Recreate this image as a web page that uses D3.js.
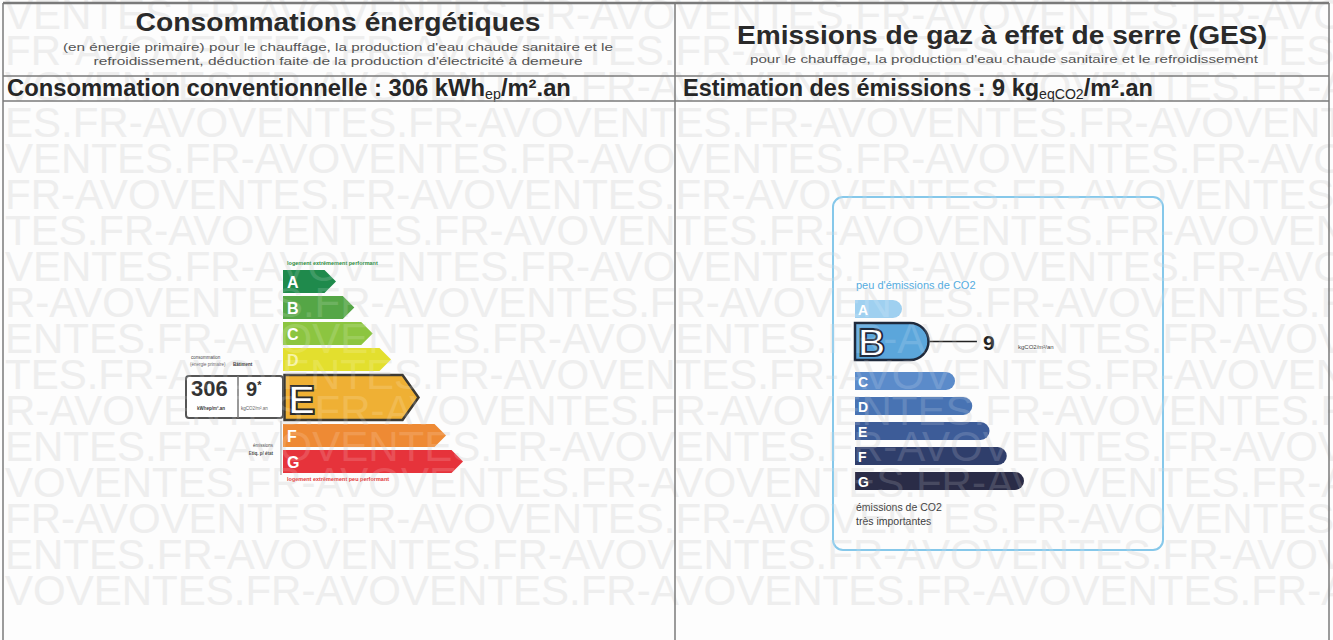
<!DOCTYPE html>
<html>
<head>
<meta charset="utf-8">
<script src="https://cdn.jsdelivr.net/npm/d3@7"></script>
<style>
body{margin:0;background:#fff;}
svg{display:block;font-family:"Liberation Sans",Arial,sans-serif;}
</style>
</head>
<body>
<script>
// energy classes (DPE) and greenhouse gas classes (GES)
var dpeClasses = ["A","B","C","D","E","F","G"];
var dpeLimits = [50, 90, 150, 230, 330, 450, Infinity]; // kWhep/m².an, upper bound of each class
var dpeColors = ["#1f8a4c","#55a646","#8cc540","#e3df2e","#efb034","#ee8a34","#e6333b"];
var gesClasses = ["A","B","C","D","E","F","G"];
var gesLimits = [5, 10, 20, 35, 55, 80, Infinity]; // kgCO2/m².an
var gesColors = ["#9fd0f0","#5ba6db","#5b8bca","#4873b3","#3d5c98","#2f3e6b","#2a2c47"];
var consumption = 306;
var emission = 9;
// watermark rows : start offset inside the repeated word
var wmWord = "VENTES.FR-AVO";
var wmRows = [0, 7, 11, 4, 0, 7, 3, 0, 8, 1, 3, 8, 1, 11, 7, 1, 11];

window.onload = function(){
	var W = 1333, H = 640;
	var svg = d3.select("body").append("svg")
		.attr("width", W)
		.attr("height", H);
	svg.append("rect").attr("width", W).attr("height", H).attr("fill", "#fdfdfd");
	svg.append("clipPath").attr("id", "pg").append("rect").attr("width", W).attr("height", H);

	function watermark(fill, op){
		var g = svg.append("g").attr("class", "wm").attr("clip-path", "url(#pg)");
		g.selectAll("text")
			.data(wmRows)
			.join("text")
			.attr("x", 5)
			.attr("y", function(d, i){ return 29 + i*36; })
			.attr("font-size", 42)
			.attr("fill", fill)
			.attr("opacity", op)
			.text(function(d){ return wmWord.slice(d) + wmWord.repeat(4); });
	}
	watermark("#ececec", 1);

	var dpeSel = dpeLimits.findIndex(function(l){ return consumption <= l; });
	var gesSel = gesLimits.findIndex(function(l){ return emission <= l; });

	// ---------- DPE (left) ----------
	var dpe = svg.append("g");
	var dX0 = 283;
	var dLen = d3.scaleLinear().domain([0, 3, 5, 6]).range([53, 108, 163, 180]);
	var cur = 270, dRows = [];
	dpeClasses.forEach(function(c, i){
		if(i === dpeSel){
			dRows.push({c: c, i: i, y: cur + 1, h: 45});
			cur += 50;
		} else {
			dRows.push({c: c, i: i, y: cur, h: 23});
			cur += 26;
		}
	});
	function arrow(x, y, len, h, d){
		return "M" + x + "," + y + "H" + (x + len - d) + "L" + (x + len) + "," + (y + h/2) +
			"L" + (x + len - d) + "," + (y + h) + "H" + x + "Z";
	}
	dpe.selectAll(".dbar")
		.data(dRows)
		.join("path")
		.attr("class", "dbar")
		.attr("d", function(d){
			var hi = d.i === dpeSel;
			return arrow(hi ? dX0 + 1.5 : dX0, d.y, dLen(d.i) - (hi ? 1.5 : 0), d.h, hi ? 16 : 11.5);
		})
		.attr("fill", function(d){ return dpeColors[d.i]; })
		.attr("stroke", function(d){ return d.i === dpeSel ? "#3d3a33" : "none"; })
		.attr("stroke-width", 2.5);
	dpe.selectAll(".dlab")
		.data(dRows)
		.join("text")
		.attr("class", "dlab")
		.attr("x", function(d){ return d.i === dpeSel ? dX0 + 5 : dX0 + 4; })
		.attr("y", function(d){ return d.i === dpeSel ? d.y + d.h - 6 : d.y + d.h - 5; })
		.attr("font-size", function(d){ return d.i === dpeSel ? 41 : 16; })
		.attr("font-weight", "bold")
		.attr("fill", function(d){ return d.i === 3 ? "#f6f3a6" : "#fff"; })
		.attr("stroke", function(d){ return d.i === dpeSel ? "#2a2a2a" : "none"; })
		.attr("stroke-width", 1.8)
		.text(function(d){ return d.c; });

	dpe.append("text").attr("x", 287).attr("y", 265).attr("font-size", 5.5).attr("font-weight", "bold")
		.attr("fill", "#2b8a3e").text("logement extrêmement performant");
	dpe.append("text").attr("x", 287).attr("y", 481).attr("font-size", 5.5).attr("font-weight", "bold")
		.attr("fill", "#e23b3b").text("logement extrêmement peu performant");
	dpe.append("line").attr("x1", 281).attr("x2", 281).attr("y1", 421).attr("y2", 475)
		.attr("stroke", "#999").attr("stroke-width", 1);

	// value box
	var sel = dRows[dpeSel];
	dpe.append("rect").attr("x", 186).attr("y", sel.y + 1).attr("width", 97).attr("height", sel.h - 3)
		.attr("rx", 3).attr("fill", "#fff").attr("stroke", "#555").attr("stroke-width", 2);
	dpe.append("line").attr("x1", 238).attr("x2", 238).attr("y1", sel.y + 1).attr("y2", sel.y + sel.h - 2)
		.attr("stroke", "#777").attr("stroke-width", 1.5);
	dpe.append("text").attr("x", 191).attr("y", sel.y + 21).attr("font-size", 22).attr("font-weight", "bold")
		.attr("fill", "#333").text(consumption);
	var t9 = dpe.append("text").attr("x", 246).attr("y", sel.y + 21).attr("font-size", 20).attr("font-weight", "bold")
		.attr("fill", "#333");
	t9.append("tspan").text(emission);
	t9.append("tspan").attr("font-size", 11).attr("dy", -7).text("*");
	dpe.append("text").attr("x", 197).attr("y", sel.y + 35).attr("font-size", 4.5).attr("font-weight", "bold")
		.attr("fill", "#333").text("kWhep/m².an");
	dpe.append("text").attr("x", 241).attr("y", sel.y + 35).attr("font-size", 4.5)
		.attr("fill", "#555").text("kgCO2/m².an");
	dpe.append("text").attr("x", 191).attr("y", 359).attr("font-size", 4.5).attr("fill", "#444").text("consommation");
	dpe.append("text").attr("x", 190).attr("y", 366).attr("font-size", 4.5).attr("fill", "#666").text("(énergie primaire)");
	dpe.append("text").attr("x", 233).attr("y", 366).attr("font-size", 4.5).attr("font-weight", "bold").attr("fill", "#333").text("Bâtiment");
	dpe.append("text").attr("x", 273).attr("y", 447).attr("text-anchor", "end").attr("font-size", 4.5).attr("fill", "#444").text("émissions");
	dpe.append("text").attr("x", 273).attr("y", 455).attr("text-anchor", "end").attr("font-size", 4.5).attr("font-weight", "bold").attr("fill", "#444").text("Etiq. p/ état");

	// ---------- GES (right) ----------
	var ges = svg.append("g");
	ges.append("rect").attr("x", 833).attr("y", 197).attr("width", 330).attr("height", 353)
		.attr("rx", 10).attr("fill", "none").attr("stroke", "#86c8ea").attr("stroke-width", 2);
	var gX0 = 855;
	var gLen = d3.scaleLinear().domain([0, 2, 6]).range([47, 100, 169]);
	var gc = 300, gRows = [];
	gesClasses.forEach(function(c, i){
		if(i === gesSel){
			gRows.push({c: c, i: i, y: gc - 2, h: 37});
			gc += 47;
		} else {
			gRows.push({c: c, i: i, y: gc, h: 18});
			gc += 25;
		}
	});
	function pill(x, y, len, h){
		var r = h/2;
		return "M" + x + "," + y + "H" + (x + len - r) + "A" + r + "," + r + " 0 0 1 " + (x + len - r) + "," + (y + h) + "H" + x + "Z";
	}
	ges.selectAll(".gbar")
		.data(gRows)
		.join("path")
		.attr("class", "gbar")
		.attr("d", function(d){ return pill(gX0, d.y, gLen(d.i), d.h); })
		.attr("fill", function(d){ return gesColors[d.i]; })
		.attr("stroke", function(d){ return d.i === gesSel ? "#1f2a3c" : "none"; })
		.attr("stroke-width", 2.5);
	ges.selectAll(".glab")
		.data(gRows)
		.join("text")
		.attr("class", "glab")
		.attr("x", gX0 + 3)
		.attr("y", function(d){ return d.i === gesSel ? d.y + d.h - 4 : d.y + d.h - 3; })
		.attr("font-size", function(d){ return d.i === gesSel ? 38 : 14; })
		.attr("font-weight", "bold")
		.attr("fill", "#fff")
		.attr("stroke", function(d){ return d.i === gesSel ? "#1f2a3c" : "none"; })
		.attr("stroke-width", 1.8)
		.text(function(d){ return d.c; });
	var gs = gRows[gesSel];
	ges.append("line").attr("x1", gX0 + gLen(gesSel) + 1).attr("x2", 977)
		.attr("y1", gs.y + gs.h/2).attr("y2", gs.y + gs.h/2)
		.attr("stroke", "#222").attr("stroke-width", 1.5);
	ges.append("text").attr("x", 983).attr("y", gs.y + gs.h/2 + 8).attr("font-size", 21).attr("font-weight", "bold")
		.attr("fill", "#222").text(emission);
	ges.append("text").attr("x", 1018).attr("y", gs.y + gs.h/2 + 7).attr("font-size", 6)
		.attr("fill", "#444").text("kgCO2/m²/an");
	ges.append("text").attr("x", 856).attr("y", 289).attr("font-size", 11).attr("fill", "#55ace0")
		.text("peu d'émissions de CO2");
	ges.append("text").attr("x", 856).attr("y", 511).attr("font-size", 10.5).attr("fill", "#3a3a3a")
		.text("émissions de CO2");
	ges.append("text").attr("x", 856).attr("y", 525).attr("font-size", 10.5).attr("fill", "#3a3a3a")
		.text("très importantes");

	// light watermark over the labels
	watermark("#ffffff", 0.14);

	// ---------- headers ----------
	var hd = svg.append("g").attr("fill", "#2a2a2a");
	hd.append("text").attr("x", 338).attr("y", 31).attr("text-anchor", "middle")
		.attr("font-size", 25).attr("font-weight", "bold")
		.attr("textLength", 405).attr("lengthAdjust", "spacingAndGlyphs")
		.text("Consommations énergétiques");
	hd.append("text").attr("x", 338).attr("y", 51).attr("text-anchor", "middle")
		.attr("font-size", 11.5).attr("fill", "#555")
		.attr("textLength", 550).attr("lengthAdjust", "spacingAndGlyphs")
		.text("(en énergie primaire) pour le chauffage, la production d'eau chaude sanitaire et le");
	hd.append("text").attr("x", 338).attr("y", 65).attr("text-anchor", "middle")
		.attr("font-size", 11.5).attr("fill", "#555")
		.attr("textLength", 489).attr("lengthAdjust", "spacingAndGlyphs")
		.text("refroidissement, déduction faite de la production d'électricité à demeure");
	hd.append("text").attr("x", 1002).attr("y", 44).attr("text-anchor", "middle")
		.attr("font-size", 25).attr("font-weight", "bold")
		.attr("textLength", 530).attr("lengthAdjust", "spacingAndGlyphs")
		.text("Emissions de gaz à effet de serre (GES)");
	hd.append("text").attr("x", 1004).attr("y", 63).attr("text-anchor", "middle")
		.attr("font-size", 11.5).attr("fill", "#555")
		.attr("textLength", 508).attr("lengthAdjust", "spacingAndGlyphs")
		.text("pour le chauffage, la production d'eau chaude sanitaire et le refroidissement");

	function subHead(x, y, target, parts){
		var t = hd.append("text").attr("x", x).attr("y", y)
			.attr("font-size", 20).attr("font-weight", "bold").attr("fill", "#262626");
		parts.forEach(function(p){
			var s = t.append("tspan").text(p.t);
			if(p.sub){ s.attr("font-size", "0.6em").attr("dy", 3).attr("font-weight", "normal"); }
			if(p.back){ s.attr("dy", -3); }
		});
		var w = t.node().getComputedTextLength();
		t.attr("font-size", 20 * target / w);
	}
	subHead(7, 96, 564, [
		{t: "Consommation conventionnelle : " + consumption + " kWh"},
		{t: "ep", sub: true},
		{t: "/m².an", back: true}
	]);
	subHead(683, 96, 470, [
		{t: "Estimation des émissions : " + emission + " kg"},
		{t: "eqCO2", sub: true},
		{t: "/m².an", back: true}
	]);

	// ---------- frame ----------
	var fr = svg.append("g").attr("stroke", "#7a7a7a").attr("stroke-width", 1.5).attr("fill", "none");
	fr.append("line").attr("x1", 3).attr("x2", 1329).attr("y1", 3).attr("y2", 3).attr("stroke-width", 2.5);
	fr.append("line").attr("x1", 3).attr("x2", 3).attr("y1", 3).attr("y2", H);
	fr.append("line").attr("x1", 1329).attr("x2", 1329).attr("y1", 3).attr("y2", H);
	fr.append("line").attr("x1", 675).attr("x2", 675).attr("y1", 3).attr("y2", H);
	fr.append("line").attr("x1", 3).attr("x2", 1329).attr("y1", 76).attr("y2", 76);
	fr.append("line").attr("x1", 3).attr("x2", 1329).attr("y1", 101).attr("y2", 101);
};
</script>
</body>
</html>
